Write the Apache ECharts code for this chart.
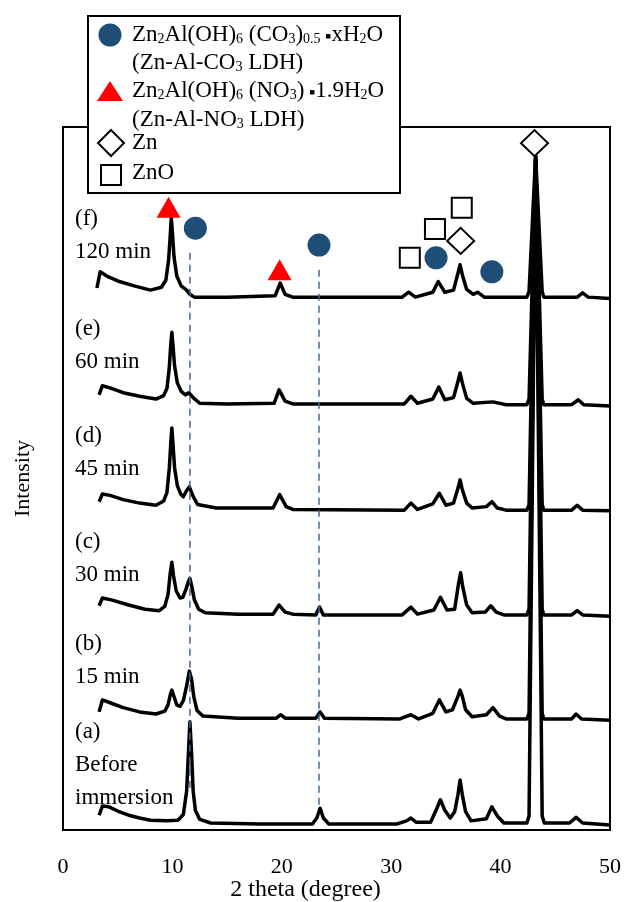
<!DOCTYPE html>
<html>
<head>
<meta charset="utf-8">
<script src="https://cdn.jsdelivr.net/npm/echarts@6/dist/echarts.min.js"></script>
<style>
  html, body { margin: 0; padding: 0; background: #fff; }
  #chart { width: 624px; height: 902px; }
</style>
</head>
<body>
<div id="chart"></div>
<script>
var FONT = 'Liberation Serif';

var xTicks = [0, 10, 20, 30, 40, 50];

// intensity (arb. units, already stacked)
var traceA = [[3.3,2.1],[3.6,3.4],[4.2,3.3],[5,2.7],[6,2.1],[7,1.7],[8,1.4],[9.5,1.3],[10.5,1.4],[11.0,2.2],[11.3,5.5],[11.45,10.5],[11.6,15.4],[11.75,11.0],[11.9,5.5],[12.1,2.8],[12.5,1.5],[13.5,1.0],[18,0.85],[22.8,0.85],[23.2,1.7],[23.5,3.1],[23.8,1.7],[24.3,0.85],[30.5,0.85],[31.4,1.3],[31.8,1.7],[32.3,1.1],[33.6,1.1],[34.1,2.8],[34.5,4.3],[34.9,2.8],[35.4,1.7],[35.8,2.6],[36.1,5.0],[36.3,7.1],[36.5,5.0],[36.8,2.6],[37.3,1.3],[38.7,1.6],[39.2,3.3],[39.7,2.0],[40.3,1.0],[42.4,1.0],[42.6,2.0],[43.2,95.9],[43.8,2.0],[44.0,1.0],[46.3,1.0],[46.9,1.8],[47.5,1.0],[50,0.7]];
var traceB = [[3.3,16.8],[3.6,18.5],[4.3,18.1],[5.5,17.4],[7,16.8],[8.5,16.5],[9.3,16.9],[9.6,17.8],[9.85,19.5],[9.95,19.9],[10.1,19.2],[10.4,17.8],[10.7,17.6],[11.0,18.4],[11.3,20.5],[11.55,22.6],[11.62,22.8],[11.75,21.5],[11.95,19.0],[12.25,17.0],[12.8,16.2],[16,15.9],[19.5,15.9],[19.9,16.4],[20.3,15.9],[23.1,15.9],[23.5,16.8],[23.9,15.9],[30.8,15.8],[31.8,16.4],[32.5,15.8],[33.8,16.6],[34.4,18.5],[35.0,16.8],[35.6,17.1],[36.1,19.0],[36.3,19.9],[36.5,19.0],[36.8,17.1],[37.4,16.1],[38.7,16.4],[39.3,17.4],[39.9,16.2],[40.5,15.8],[42.4,15.8],[42.6,16.6],[43.2,95.7],[43.8,16.6],[43.95,15.8],[46.5,15.8],[46.9,16.5],[47.4,15.8],[50,15.6]];
var traceC = [[3.3,31.9],[3.6,33.0],[4.5,32.7],[6,32.0],[7.5,31.4],[8.8,31.2],[9.3,31.8],[9.6,33.5],[9.8,36.5],[9.95,38.1],[10.1,36.2],[10.35,34.0],[10.7,33.0],[10.95,33.1],[11.25,34.3],[11.5,35.5],[11.6,35.8],[11.75,34.8],[12.0,32.8],[12.4,31.4],[13,30.9],[16,30.7],[19.2,30.7],[19.75,32.0],[20.3,31.0],[21,30.7],[23.1,30.6],[23.45,31.7],[23.8,30.6],[31,30.6],[31.8,31.7],[32.4,30.7],[33.9,31.3],[34.5,33.1],[35.1,31.3],[35.8,31.4],[36.15,35.0],[36.35,36.6],[36.55,34.5],[36.9,32.0],[37.4,30.9],[38.6,31.0],[39.1,31.9],[39.6,31.0],[40.3,30.6],[42.4,30.6],[42.6,31.4],[43.2,95.3],[43.8,31.4],[43.95,30.6],[46.5,30.6],[47.0,31.2],[47.5,30.6],[50,30.4]];
var traceD = [[3.3,46.7],[3.6,47.8],[4.3,47.6],[5.5,47.0],[7,46.5],[8.5,46.2],[9.2,46.8],[9.5,48.0],[9.72,51.5],[9.87,55.5],[9.95,57.2],[10.05,55.0],[10.2,51.5],[10.45,49.0],[10.75,47.8],[11.0,47.4],[11.3,48.3],[11.55,48.8],[11.85,47.6],[12.3,46.3],[14,45.8],[19.2,45.8],[19.8,47.7],[20.4,46.0],[21,45.6],[31.2,45.5],[31.8,46.5],[32.4,45.6],[33.8,46.4],[34.4,47.9],[35.0,46.2],[35.7,46.5],[36.1,48.6],[36.3,49.8],[36.5,48.4],[36.9,46.5],[37.4,45.8],[38.7,46.0],[39.2,46.7],[39.7,45.8],[40.5,45.5],[42.4,45.5],[42.6,46.3],[43.2,95.6],[43.8,46.3],[43.95,45.5],[46.5,45.5],[47,46.2],[47.5,45.5],[50,45.4]];
var traceE = [[3.3,61.9],[3.6,63.2],[4.3,62.9],[5.5,62.2],[7,61.7],[8.5,61.3],[9.2,61.8],[9.5,62.8],[9.7,65.5],[9.85,69.0],[9.95,70.8],[10.05,69.0],[10.2,66.0],[10.45,63.6],[10.8,62.4],[11.2,61.9],[11.5,62.2],[11.9,61.5],[12.5,60.7],[15,60.6],[19.3,60.7],[19.75,62.6],[20.3,61.0],[21,60.6],[31.2,60.6],[31.8,61.7],[32.4,60.7],[33.8,61.3],[34.35,63.0],[34.9,61.2],[35.7,61.5],[36.1,63.8],[36.3,65.0],[36.5,63.6],[36.9,61.4],[37.5,60.7],[39.3,60.9],[40.5,60.5],[42.4,60.5],[42.6,61.3],[43.2,95.3],[43.8,61.3],[43.95,60.5],[46.5,60.5],[47.1,61.2],[47.6,60.5],[50,60.3]];
var traceF = [[3.1,77.1],[3.4,79.4],[4.0,78.8],[5,78.1],[6.5,77.4],[8,76.8],[9.0,77.2],[9.4,78.2],[9.65,81.0],[9.8,84.5],[9.9,87.1],[10.0,85.0],[10.15,81.5],[10.4,78.8],[10.8,77.4],[11.3,76.8],[11.6,76.2],[12,75.8],[15,75.8],[19.4,76.0],[19.85,77.8],[20.3,76.2],[21,75.8],[31,75.8],[31.6,76.5],[32.2,75.8],[33.8,76.5],[34.3,78.0],[34.9,76.5],[35.7,76.8],[36.1,79.2],[36.3,80.4],[36.5,79.0],[36.9,76.9],[37.5,76.2],[37.9,76.5],[38.5,75.8],[42.4,75.8],[42.6,76.6],[43.2,96.0],[43.8,76.6],[43.95,75.8],[47,75.8],[47.5,76.4],[48,75.8],[50,75.6]];

var traces = [traceA, traceB, traceC, traceD, traceE, traceF];

// reference positions of the LDH peaks (dashed guides)
var guide1 = [[11.6, 82.1], [11.6, 5.3]];
var guide2 = [[23.4, 79.7], [23.4, 3.1]];

// phase markers
var co3Marks = [[12.1, 85.6], [23.4, 83.2], [34.1, 81.4], [39.2, 79.4]];
var no3Marks = [[9.65, 88.6], [19.8, 79.7]];
var znMarks = [[43.1, 97.7], [36.35, 83.8]];
var znoMarks = [[31.7, 81.4], [34.0, 85.5], [36.45, 88.5]];

var sampleLabels = [
  ['(f)', '120 min'],
  ['(e)', '60 min'],
  ['(d)', '45 min'],
  ['(c)', '30 min'],
  ['(b)', '15 min'],
  ['(a)', 'Before', 'immersion']
];

var BLUE = '#1e4d78';
var RED = '#ff0000';

var chart = echarts.init(document.getElementById('chart'));

var series = [];
traces.forEach(function (t) {
  series.push({
    type: 'line',
    data: t,
    showSymbol: false,
    silent: true,
    lineStyle: { color: '#000', width: 3.5, join: 'round' },
    z: 2
  });
});
[guide1, guide2].forEach(function (g) {
  series.push({
    type: 'line',
    data: g,
    showSymbol: false,
    silent: true,
    lineStyle: { color: '#3d6a96', width: 1.5, type: [7, 5] },
    z: 3
  });
});
series.push({ type: 'scatter', data: co3Marks, symbol: 'circle', symbolSize: 23, silent: true,
  itemStyle: { color: BLUE, opacity: 1 }, z: 5 });
series.push({ type: 'scatter', data: no3Marks, symbol: 'triangle', symbolSize: [24, 21], silent: true,
  itemStyle: { color: RED, opacity: 1 }, z: 5 });
series.push({ type: 'scatter', data: znMarks, symbol: 'diamond', symbolSize: [27, 26], silent: true,
  itemStyle: { color: '#fff', borderColor: '#000', borderWidth: 2, opacity: 1 }, z: 5 });
series.push({ type: 'scatter', data: znoMarks, symbol: 'rect', symbolSize: 20, silent: true,
  itemStyle: { color: '#fff', borderColor: '#000', borderWidth: 2, opacity: 1 }, z: 5 });

// sample labels on the left
var labelTops = [220, 330, 437, 543, 645, 733];
var graphics = [];
sampleLabels.forEach(function (lines, i) {
  lines.forEach(function (s, j) {
    graphics.push({
      type: 'text', left: 75, top: labelTops[i] + j * 33 - 13, z: 10,
      style: { text: s, font: '23px "' + FONT + '"', fill: '#000' }
    });
  });
});

// legend box
var rich = {
  b: { fontSize: 23, fontFamily: FONT, lineHeight: 26, verticalAlign: 'bottom' },
  s: { fontSize: 14, fontFamily: FONT, lineHeight: 10, verticalAlign: 'bottom' },
  d: { fontSize: 18, fontFamily: FONT, lineHeight: 26, verticalAlign: 'bottom' }
};
graphics.push({
  type: 'rect', left: 87, top: 15, z: 20,
  shape: { width: 312, height: 177 },
  style: { fill: '#fff', stroke: '#000', lineWidth: 2 }
});
var legendRows = [
  { y: 23, text: '{b|Zn}{s|2}{b|Al(OH)}{s|6}{b| (CO}{s|3}{b|)}{s|0.5}{d| ▪}{b|xH}{s|2}{b|O}' },
  { y: 51, text: '{b|(Zn-Al-CO}{s|3}{b| LDH)}' },
  { y: 79, text: '{b|Zn}{s|2}{b|Al(OH)}{s|6}{b| (NO}{s|3}{b|)}{d| ▪}{b|1.9H}{s|2}{b|O}' },
  { y: 108, text: '{b|(Zn-Al-NO}{s|3}{b| LDH)}' },
  { y: 131, text: '{b|Zn}' },
  { y: 161, text: '{b|ZnO}' }
];
legendRows.forEach(function (r) {
  graphics.push({
    type: 'text', left: 132, top: r.y, z: 21,
    style: { text: r.text, rich: rich, fill: '#000' }
  });
});
graphics.push({ type: 'circle', z: 21, shape: { cx: 110, cy: 35, r: 11.5 }, style: { fill: BLUE } });
graphics.push({ type: 'polygon', z: 21, shape: { points: [[110, 81], [123, 101], [97, 101]] }, style: { fill: RED } });
graphics.push({ type: 'polygon', z: 21, shape: { points: [[111, 130], [124, 143], [111, 156], [98, 143]] },
  style: { fill: '#fff', stroke: '#000', lineWidth: 2 } });
graphics.push({ type: 'rect', z: 21, shape: { x: 101, y: 165, width: 20, height: 20 },
  style: { fill: '#fff', stroke: '#000', lineWidth: 2 } });

var option = {
  animation: false,
  textStyle: { fontFamily: FONT, color: '#000' },
  grid: {
    left: 63, right: 14, top: 127, bottom: 72,
    outerBoundsMode: 'none', containLabel: false,
    show: true, borderColor: '#000', borderWidth: 2, backgroundColor: 'transparent'
  },
  xAxis: {
    type: 'value', min: xTicks[0], max: xTicks[xTicks.length - 1], interval: 10,
    name: '2 theta (degree)', nameLocation: 'middle', nameGap: 48, nameMoveOverlap: false,
    nameTextStyle: { fontSize: 24, color: '#000', fontFamily: FONT, padding: [0, 62, 0, 0] },
    axisLine: { show: false }, axisTick: { show: false }, splitLine: { show: false },
    axisLabel: { fontSize: 22, color: '#000', margin: 26, fontFamily: FONT }
  },
  yAxis: {
    type: 'value', min: 0, max: 100,
    name: 'Intensity', nameLocation: 'middle', nameGap: 29, nameRotate: 90,
    nameTextStyle: { fontSize: 22, color: '#000', fontFamily: FONT },
    axisLine: { show: false }, axisTick: { show: false }, splitLine: { show: false },
    axisLabel: { show: false }
  },
  series: series,
  graphic: graphics
};

chart.setOption(option);
</script>
</body>
</html>
